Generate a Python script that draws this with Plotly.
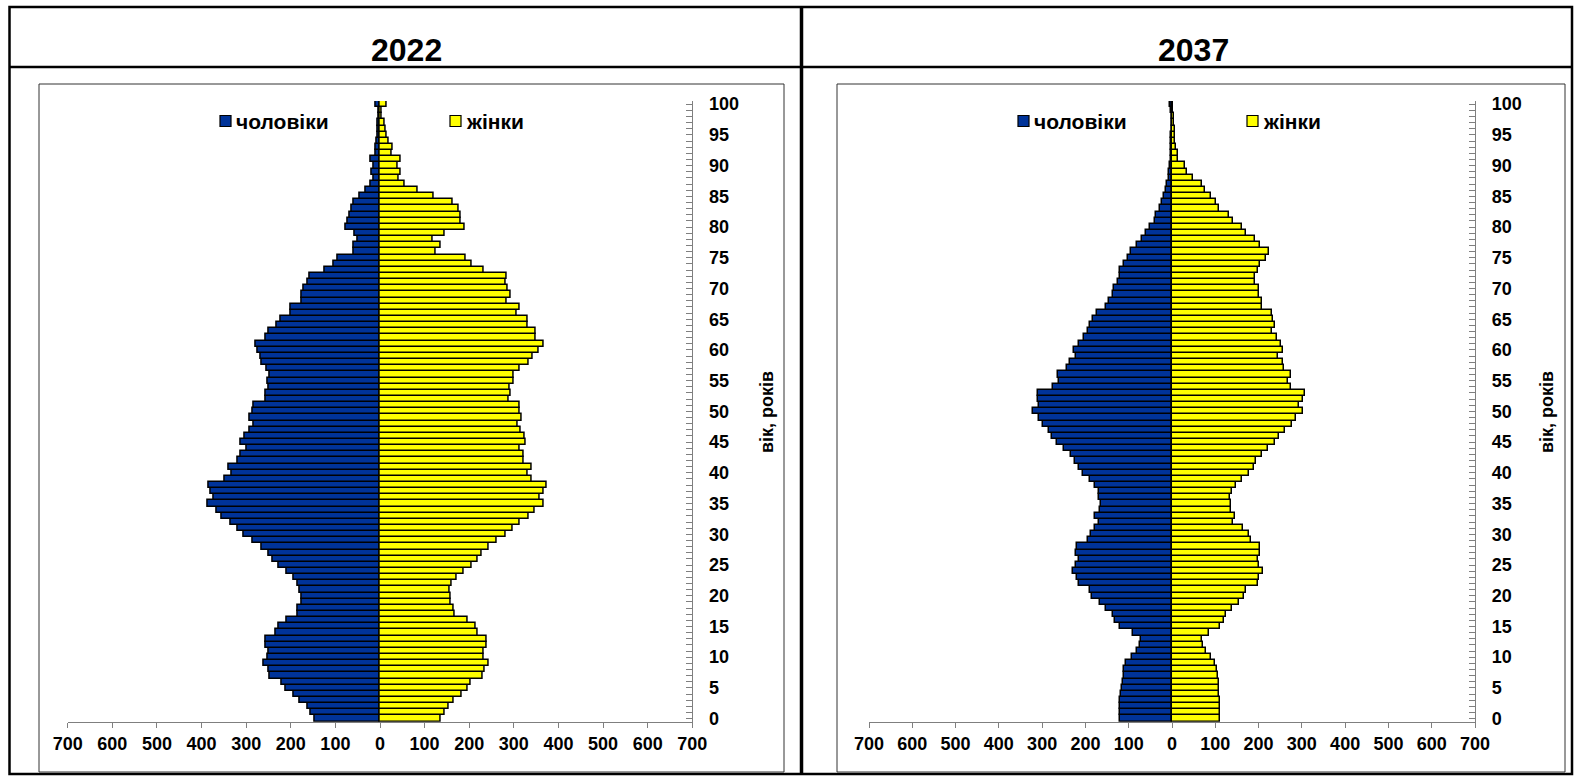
import plotly.graph_objects as go

W, H = 1575, 780

ages = list(range(101))

men_2022 = [146, 156, 163, 180, 193, 211, 220, 247, 250, 261,
            251, 249, 257, 256, 233, 226, 209, 184, 184, 176,
            176, 181, 184, 194, 209, 226, 241, 250, 265, 286,
            305, 320, 334, 355, 367, 386, 373, 380, 383, 347,
            333, 339, 318, 312, 299, 312, 303, 293, 284, 291,
            286, 283, 256, 256, 249, 252, 247, 255, 266, 268,
            275, 278, 256, 249, 232, 223, 200, 200, 175, 175,
            170, 162, 157, 125, 104, 95, 58, 58, 49, 57,
            77, 72, 67, 63, 58, 45, 31, 21, 15, 18,
            15, 20, 9, 9, 7.5, 6, 5, 4.5, 2, 2, 10]

women_2022 = [135, 145, 153, 166, 182, 197, 204, 231, 235, 243,
              233, 233, 240, 240, 220, 215, 196, 168, 166, 158,
              158, 156, 161, 173, 188, 205, 218, 229, 243, 262,
              282, 297, 312, 333, 347, 368, 359, 367, 374, 339,
              330, 339, 322, 322, 312, 327, 324, 315, 309, 318,
              314, 312, 289, 294, 291, 299, 299, 312, 333, 342,
              355, 368, 350, 348, 331, 330, 306, 314, 285, 293,
              286, 282, 285, 232, 205, 193, 125, 137, 117, 146,
              189, 181, 181, 176, 162, 120, 84, 56, 42, 47,
              40, 46, 26, 28, 19, 15, 12, 10, 3, 3, 16]

men_2037 = [121, 119, 119, 119, 117, 115, 113, 112, 112, 107,
            92, 81, 75, 72, 90, 120, 132, 137, 152, 166,
            184, 189, 214, 220, 229, 221, 216, 222, 220, 195,
            187, 177, 168, 178, 166, 165, 169, 168, 179, 189,
            205, 216, 223, 233, 249, 265, 277, 285, 299, 307,
            320, 308, 309, 309, 276, 262, 263, 243, 235, 222,
            226, 216, 204, 193, 190, 183, 174, 152, 146, 137,
            134, 124, 121, 119, 111, 102, 95, 81, 70, 60,
            51, 40, 38, 28, 23, 19, 13, 12, 8, 6,
            5, 3, 3, 2, 1.5, 1.5, 1, 1, 1, 3, 4]

women_2037 = [112, 112, 112, 111, 109, 109, 108, 106, 105, 99,
              89, 78, 72, 69, 85, 112, 121, 125, 139, 154,
              167, 172, 198, 201, 211, 202, 198, 203, 203, 183,
              177, 163, 142, 146, 137, 136, 134, 138, 148, 162,
              177, 189, 195, 207, 222, 237, 248, 260, 277, 287,
              303, 294, 302, 308, 276, 268, 275, 259, 257, 245,
              256, 252, 243, 232, 238, 233, 230, 207, 207, 201,
              201, 192, 192, 198, 203, 217, 225, 204, 192, 172,
              161, 140, 132, 108, 102, 89, 76, 70, 48, 35,
              29, 15, 14, 9, 8, 8, 7, 5, 5, 3, 3]

years = ["2022", "2037"]
series_names = ["чоловіки", "жінки"]
axis_title = "вік, років"
x_tick_vals = list(range(-700, 701, 100))
x_tick_text = [str(abs(v)) for v in x_tick_vals]

MEN_COLOR = "#003399"
WOMEN_COLOR = "#FFFF00"
FONT = "Arial, 'Liberation Sans', sans-serif"


def fx(x):
    return x / W


def fy(y):
    return 1 - y / H


fig = go.Figure()

panels = [
    dict(men=men_2022, women=women_2022, xa="x", ya="y",
         xdom=(67.7, 692.3)),
    dict(men=men_2037, women=women_2037, xa="x2", ya="y2",
         xdom=(869, 1475)),
]

for p in panels:
    fig.add_trace(go.Bar(
        y=ages, x=[-v for v in p["men"]], orientation="h",
        name=series_names[0], marker=dict(color=MEN_COLOR, line=dict(color="black", width=1.5)),
        xaxis=p["xa"], yaxis=p["ya"], showlegend=False, width=1,
    ))
    fig.add_trace(go.Bar(
        y=ages, x=p["women"], orientation="h",
        name=series_names[1], marker=dict(color=WOMEN_COLOR, line=dict(color="black", width=1.5)),
        xaxis=p["xa"], yaxis=p["ya"], showlegend=False, width=1,
    ))

ydom = (fy(721.7), fy(101.1))
axis_color = "#7f7f7f"

for i, p in enumerate(panels):
    sfx = "" if i == 0 else "2"
    fig.update_layout(**{
        "xaxis" + sfx: dict(
            domain=[fx(p["xdom"][0]), fx(p["xdom"][1])],
            range=[-700, 700], anchor="y" + sfx, automargin=False,
            tickmode="array", tickvals=x_tick_vals, ticktext=x_tick_text,
            showline=True, linecolor=axis_color, linewidth=1.2,
            ticks="outside", ticklen=5, tickcolor=axis_color, tickwidth=1.2,
            showgrid=False, zeroline=False, fixedrange=True,
            ticklabelstandoff=1,
            tickfont=dict(family=FONT, size=18, color="black", weight="bold"),
        ),
        "yaxis" + sfx: dict(
            domain=list(ydom), range=[-0.5, 100.5], anchor="x" + sfx,
            automargin=False,
            side="right", tickmode="linear", tick0=0, dtick=5,
            showline=True, linecolor=axis_color, linewidth=1.2,
            ticks="inside", ticklen=6, tickcolor=axis_color, tickwidth=1,
            minor=dict(dtick=1, tick0=0, ticks="inside", ticklen=6,
                       tickcolor=axis_color, tickwidth=1, showgrid=False),
            showgrid=False, zeroline=False, fixedrange=True,
            ticklabelstandoff=12,
            tickfont=dict(family=FONT, size=18, color="black", weight="bold"),
        ),
    })

shapes = []
# outer table frame
shapes.append(dict(type="rect", xref="paper", yref="paper",
                   x0=fx(9.5), x1=fx(1572), y0=fy(7), y1=fy(774),
                   line=dict(color="black", width=2.5)))
shapes.append(dict(type="line", xref="paper", yref="paper",
                   x0=fx(9.5), x1=fx(1572), y0=fy(67), y1=fy(67),
                   line=dict(color="black", width=2.5)))
shapes.append(dict(type="line", xref="paper", yref="paper",
                   x0=fx(801.5), x1=fx(801.5), y0=fy(7), y1=fy(774),
                   line=dict(color="black", width=3.5)))
# chart area boxes
for (x0, x1) in [(39, 784), (837, 1565)]:
    shapes.append(dict(type="rect", xref="paper", yref="paper",
                       x0=fx(x0), x1=fx(x1), y0=fy(84), y1=fy(772),
                       line=dict(color="#333333", width=1)))

annotations = []
title_x = [406, 1193]
legend_pos = [(220, 450), (1018, 1247)]
ytitle_x = [767, 1547]
for i in range(2):
    annotations.append(dict(
        text=years[i], x=fx(title_x[i]), y=fy(50), xref="paper", yref="paper",
        showarrow=False, xanchor="center", yanchor="middle",
        font=dict(family=FONT, size=32, color="black", weight="bold"),
    ))
    for j, (sx, col) in enumerate(zip(legend_pos[i], [MEN_COLOR, WOMEN_COLOR])):
        shapes.append(dict(type="rect", xref="paper", yref="paper",
                           x0=fx(sx), x1=fx(sx + 11), y0=fy(115.5), y1=fy(126.5),
                           fillcolor=col, line=dict(color="black", width=1.2)))
        annotations.append(dict(
            text=series_names[j], x=fx(sx + 14), y=fy(121.5), xref="paper", yref="paper",
            showarrow=False, xanchor="left", yanchor="middle",
            font=dict(family=FONT, size=21, color="black", weight="bold"),
        ))
    annotations.append(dict(
        text=axis_title, x=fx(ytitle_x[i]), y=fy(412), xref="paper", yref="paper",
        showarrow=False, xanchor="center", yanchor="middle", textangle=-90,
        font=dict(family=FONT, size=18, color="black", weight="bold"),
    ))

fig.update_layout(
    template="none",
    width=W, height=H,
    margin=dict(l=0, r=0, t=0, b=0, pad=0),
    paper_bgcolor="white", plot_bgcolor="white",
    barmode="overlay", bargap=0,
    shapes=shapes, annotations=annotations,
    showlegend=False,
    font=dict(family=FONT, color="black"),
)

fig.write_html("out.html", config={"displayModeBar": False},
               post_script="document.body.style.margin='0';document.body.style.overflow='hidden';")
